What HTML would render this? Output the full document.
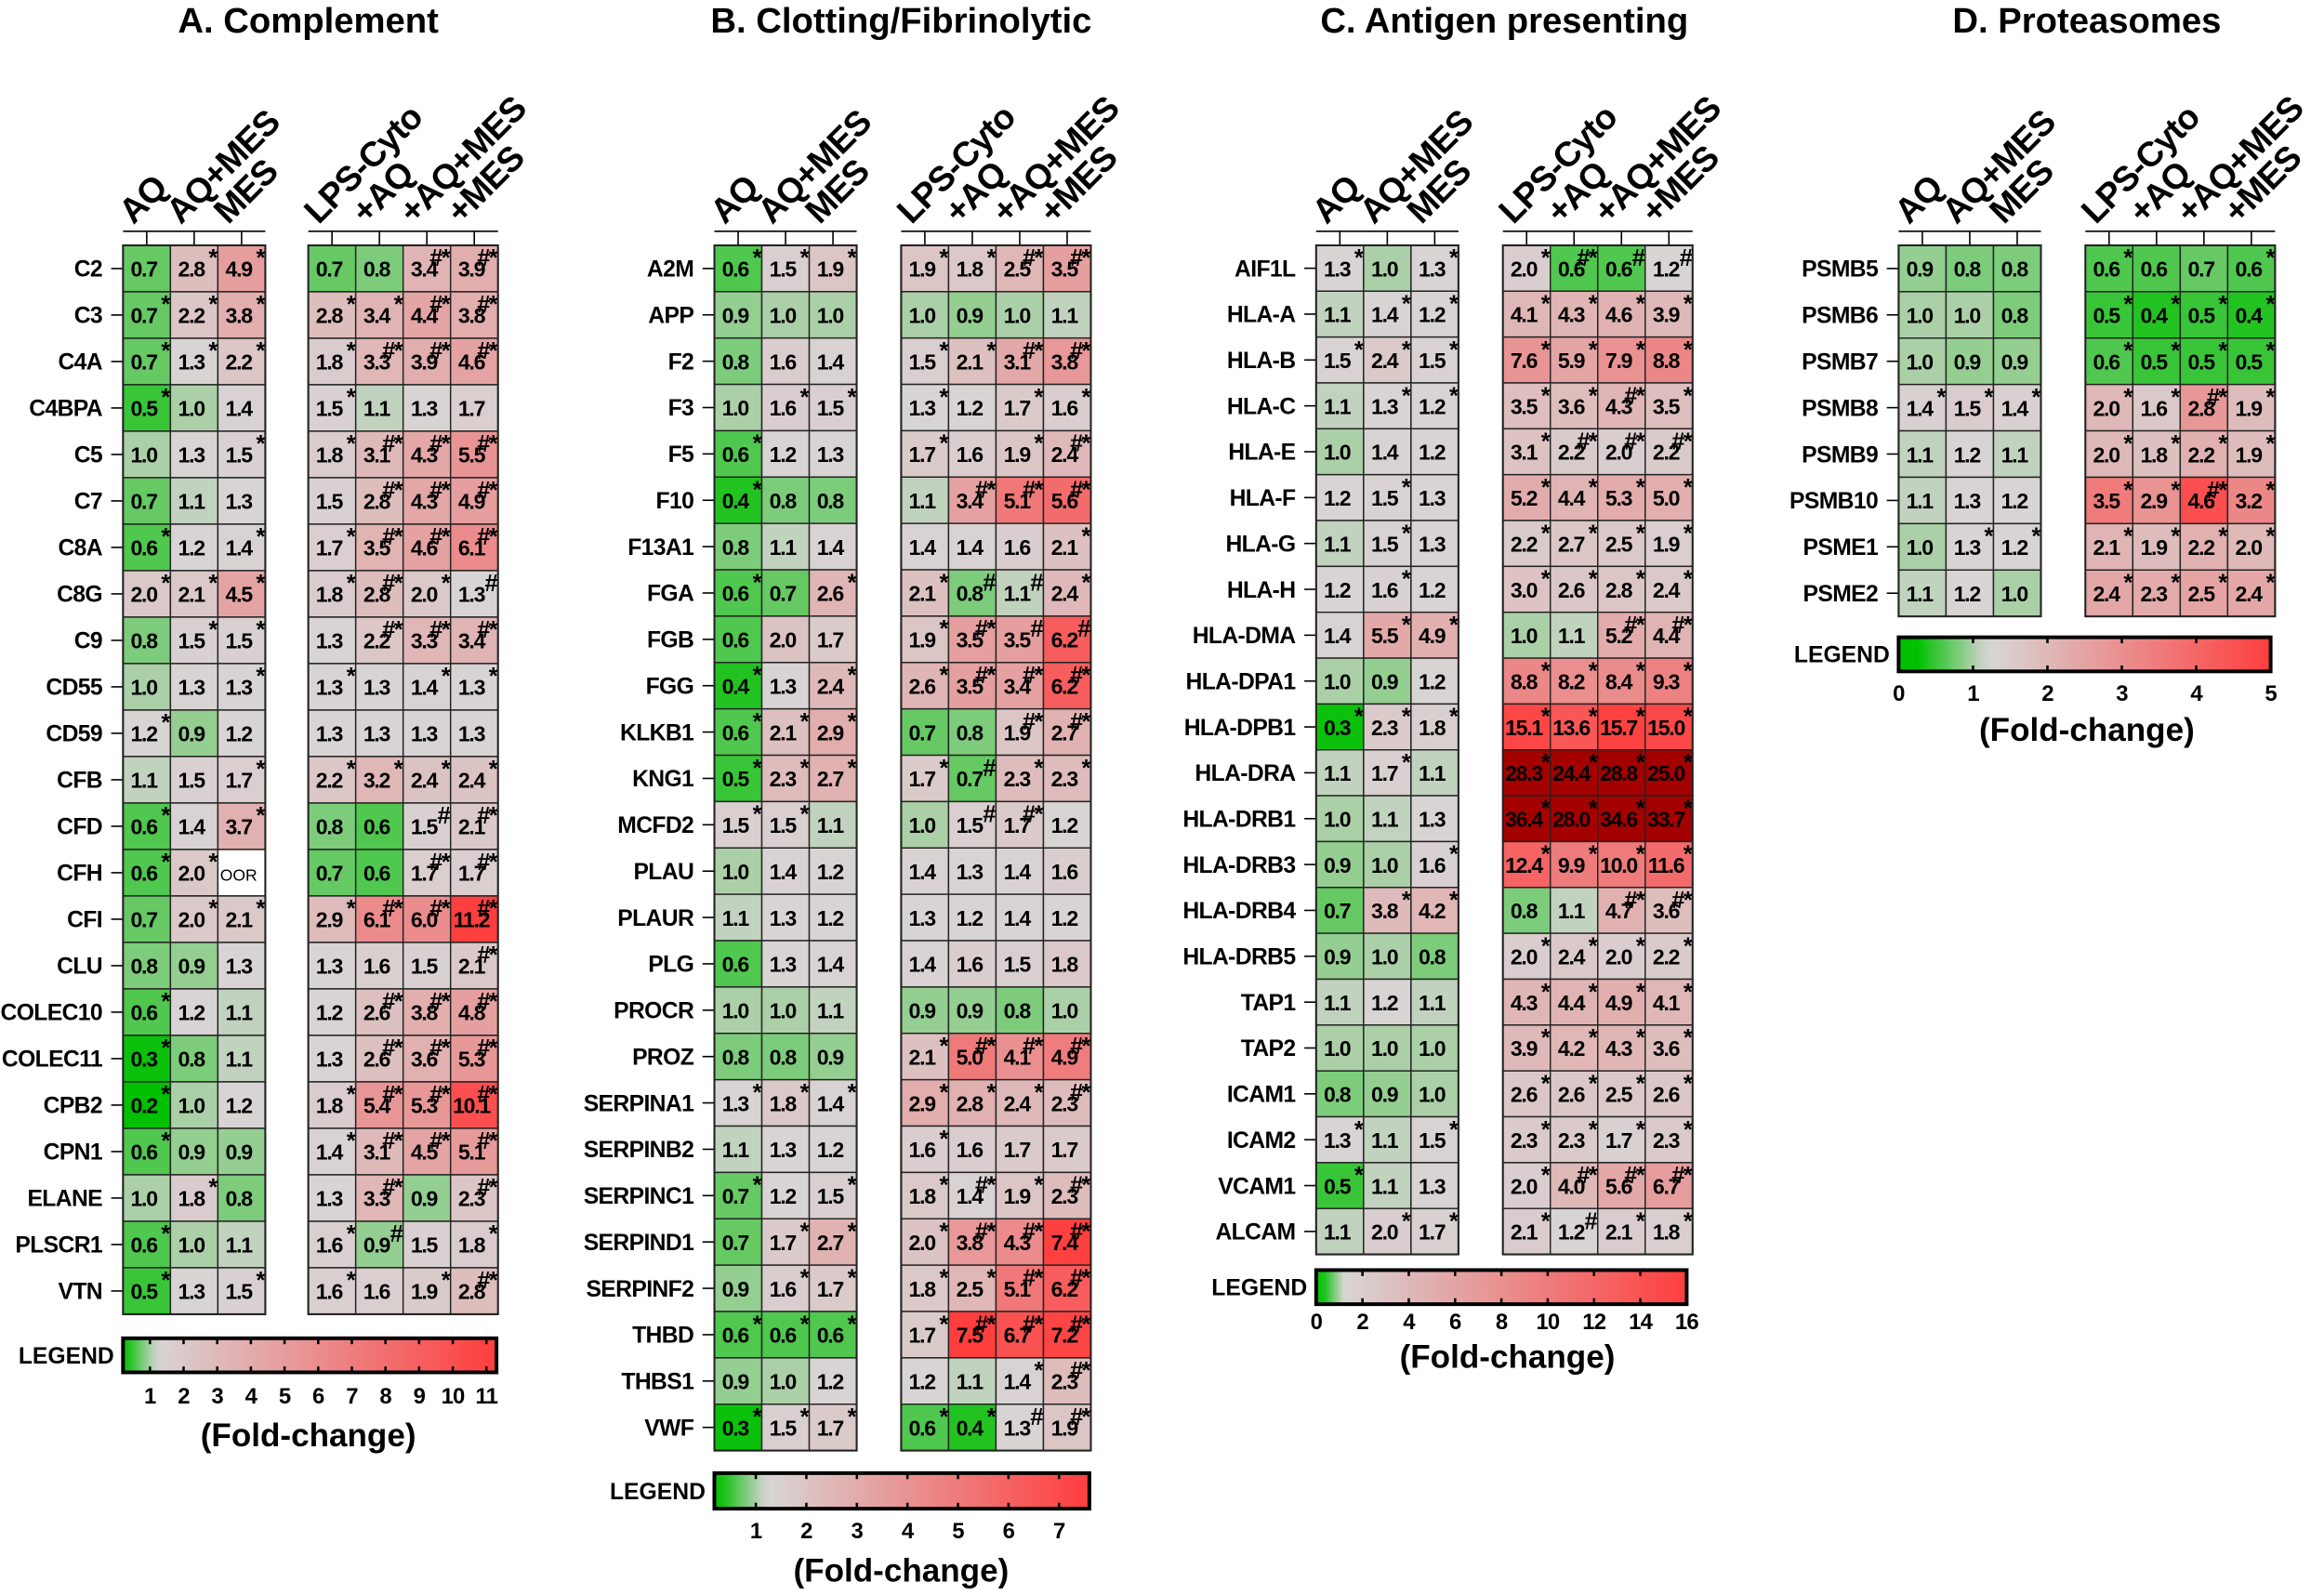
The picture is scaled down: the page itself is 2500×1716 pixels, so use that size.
<!DOCTYPE html>
<html><head><meta charset="utf-8"><style>
html,body{margin:0;padding:0;background:#fff;}
svg{display:block;font-family:"Liberation Sans",Arial,sans-serif;}
</style></head><body>
<svg id="fig" width="2500" height="1716" viewBox="0 0 1568 1076.2" xmlns="http://www.w3.org/2000/svg"></svg>
<script>
const colLabels1 = ["AQ","AQ+MES","MES"];
const colLabels2 = ["LPS-Cyto","+AQ","+AQ+MES","+MES"];

const genesA = ["C2","C3","C4A","C4BPA","C5","C7","C8A","C8G","C9","CD55","CD59","CFB","CFD","CFH","CFI","CLU","COLEC10","COLEC11","CPB2","CPN1","ELANE","PLSCR1","VTN"];
const valuesA = [
[0.7,2.8,4.9,0.7,0.8,3.4,3.9],[0.7,2.2,3.8,2.8,3.4,4.4,3.8],[0.7,1.3,2.2,1.8,3.3,3.9,4.6],[0.5,1.0,1.4,1.5,1.1,1.3,1.7],
[1.0,1.3,1.5,1.8,3.1,4.3,5.5],[0.7,1.1,1.3,1.5,2.8,4.3,4.9],[0.6,1.2,1.4,1.7,3.5,4.6,6.1],[2.0,2.1,4.5,1.8,2.8,2.0,1.3],
[0.8,1.5,1.5,1.3,2.2,3.3,3.4],[1.0,1.3,1.3,1.3,1.3,1.4,1.3],[1.2,0.9,1.2,1.3,1.3,1.3,1.3],[1.1,1.5,1.7,2.2,3.2,2.4,2.4],
[0.6,1.4,3.7,0.8,0.6,1.5,2.1],[0.6,2.0,null,0.7,0.6,1.7,1.7],[0.7,2.0,2.1,2.9,6.1,6.0,11.2],[0.8,0.9,1.3,1.3,1.6,1.5,2.1],
[0.6,1.2,1.1,1.2,2.6,3.8,4.8],[0.3,0.8,1.1,1.3,2.6,3.6,5.3],[0.2,1.0,1.2,1.8,5.4,5.3,10.1],[0.6,0.9,0.9,1.4,3.1,4.5,5.1],
[1.0,1.8,0.8,1.3,3.3,0.9,2.3],[0.6,1.0,1.1,1.6,0.9,1.5,1.8],[0.5,1.3,1.5,1.6,1.6,1.9,2.8]];
const marksA = [
"- * * - - #* #*","* * * * * #* #*","* * * * #* #* #*","* - - * - - -","- - * * #* #* #*","- - - - #* #* #*","* - * * #* #* #*","* * * * #* * #",
"- * * - #* #* #*","- - * * - * *","* - - - - - -","- - * * * * *","* - * - - # #*","* * - - - #* #*","- * * * #* #* #*","- - - - - - #*",
"* - - - #* #* #*","* - - - #* #* #*","* - - * #* #* #*","* - - * #* #* #*","- * - - #* - #*","* - - * # - *","* - * * - * #*"];

const genesB = ["A2M","APP","F2","F3","F5","F10","F13A1","FGA","FGB","FGG","KLKB1","KNG1","MCFD2","PLAU","PLAUR","PLG","PROCR","PROZ","SERPINA1","SERPINB2","SERPINC1","SERPIND1","SERPINF2","THBD","THBS1","VWF"];
const valuesB = [
[0.6,1.5,1.9,1.9,1.8,2.5,3.5],[0.9,1.0,1.0,1.0,0.9,1.0,1.1],[0.8,1.6,1.4,1.5,2.1,3.1,3.8],[1.0,1.6,1.5,1.3,1.2,1.7,1.6],
[0.6,1.2,1.3,1.7,1.6,1.9,2.4],[0.4,0.8,0.8,1.1,3.4,5.1,5.6],[0.8,1.1,1.4,1.4,1.4,1.6,2.1],[0.6,0.7,2.6,2.1,0.8,1.1,2.4],
[0.6,2.0,1.7,1.9,3.5,3.5,6.2],[0.4,1.3,2.4,2.6,3.5,3.4,6.2],[0.6,2.1,2.9,0.7,0.8,1.9,2.7],[0.5,2.3,2.7,1.7,0.7,2.3,2.3],
[1.5,1.5,1.1,1.0,1.5,1.7,1.2],[1.0,1.4,1.2,1.4,1.3,1.4,1.6],[1.1,1.3,1.2,1.3,1.2,1.4,1.2],[0.6,1.3,1.4,1.4,1.6,1.5,1.8],
[1.0,1.0,1.1,0.9,0.9,0.8,1.0],[0.8,0.8,0.9,2.1,5.0,4.1,4.9],[1.3,1.8,1.4,2.9,2.8,2.4,2.3],[1.1,1.3,1.2,1.6,1.6,1.7,1.7],
[0.7,1.2,1.5,1.8,1.4,1.9,2.3],[0.7,1.7,2.7,2.0,3.8,4.3,7.4],[0.9,1.6,1.7,1.8,2.5,5.1,6.2],[0.6,0.6,0.6,1.7,7.5,6.7,7.2],
[0.9,1.0,1.2,1.2,1.1,1.4,2.3],[0.3,1.5,1.7,0.6,0.4,1.3,1.9]];
const marksB = [
"* * * * * #* #*","- - - - - - -","- - - * * #* #*","- * * * - * *","* - - * - * #*","* - - - #* #* #*","- - - - - - *","* - * * # # *",
"- - - * #* # #","* - * * #* #* #*","* * * - - #* #*","* * * * # * *","* * - - # #* -","- - - - - - -","- - - - - - -","- - - - - - -",
"- - - - - - -","- - - * #* #* #*","* * * * * * #*","- - - * - - -","* - * * #* * #*","- * * * #* #* #*","- * * * * #* #*","* * * * #* #* #*",
"- - - - - * #*","* * * * * # #*"];

const genesC = ["AIF1L","HLA-A","HLA-B","HLA-C","HLA-E","HLA-F","HLA-G","HLA-H","HLA-DMA","HLA-DPA1","HLA-DPB1","HLA-DRA","HLA-DRB1","HLA-DRB3","HLA-DRB4","HLA-DRB5","TAP1","TAP2","ICAM1","ICAM2","VCAM1","ALCAM"];
const valuesC = [
[1.3,1.0,1.3,2.0,0.6,0.6,1.2],[1.1,1.4,1.2,4.1,4.3,4.6,3.9],[1.5,2.4,1.5,7.6,5.9,7.9,8.8],[1.1,1.3,1.2,3.5,3.6,4.3,3.5],
[1.0,1.4,1.2,3.1,2.2,2.0,2.2],[1.2,1.5,1.3,5.2,4.4,5.3,5.0],[1.1,1.5,1.3,2.2,2.7,2.5,1.9],[1.2,1.6,1.2,3.0,2.6,2.8,2.4],
[1.4,5.5,4.9,1.0,1.1,5.2,4.4],[1.0,0.9,1.2,8.8,8.2,8.4,9.3],[0.3,2.3,1.8,15.1,13.6,15.7,15.0],[1.1,1.7,1.1,28.3,24.4,28.8,25.0],
[1.0,1.1,1.3,36.4,28.0,34.6,33.7],[0.9,1.0,1.6,12.4,9.9,10.0,11.6],[0.7,3.8,4.2,0.8,1.1,4.7,3.6],[0.9,1.0,0.8,2.0,2.4,2.0,2.2],
[1.1,1.2,1.1,4.3,4.4,4.9,4.1],[1.0,1.0,1.0,3.9,4.2,4.3,3.6],[0.8,0.9,1.0,2.6,2.6,2.5,2.6],[1.3,1.1,1.5,2.3,2.3,1.7,2.3],
[0.5,1.1,1.3,2.0,4.0,5.6,6.7],[1.1,2.0,1.7,2.1,1.2,2.1,1.8]];
const marksC = [
"* - * * #* # #","- * * * * * *","* * * * * * *","- * * * * #* *","- - - * #* #* #*","- * - * * * *","- * - * * * *","- * - * * * *",
"- * * - - #* #*","- - - * * * *","* * * * * * *","- * - * * * *","- - - * * * *","- - * * * * *","- * * - - #* #*","- - - * * * *",
"- - - * * * *","- - - * * * *","- - - * * * *","* - * * * * *","* - - * #* #* #*","- * * * # * *"];

const genesD = ["PSMB5","PSMB6","PSMB7","PSMB8","PSMB9","PSMB10","PSME1","PSME2"];
const valuesD = [
[0.9,0.8,0.8,0.6,0.6,0.7,0.6],[1.0,1.0,0.8,0.5,0.4,0.5,0.4],[1.0,0.9,0.9,0.6,0.5,0.5,0.5],[1.4,1.5,1.4,2.0,1.6,2.8,1.9],
[1.1,1.2,1.1,2.0,1.8,2.2,1.9],[1.1,1.3,1.2,3.5,2.9,4.6,3.2],[1.0,1.3,1.2,2.1,1.9,2.2,2.0],[1.1,1.2,1.0,2.4,2.3,2.5,2.4]];
const marksD = [
"- - - * - - *","- - - * * * *","- - - * * * *","* * * * * #* *","- - - * * * *","- - - * * #* *","- * * * * * *","- - - * * * *"];

const ticksA = [1,2,3,4,5,6,7,8,9,10,11];
const ticksB = [1,2,3,4,5,6,7];
const ticksC = [0,2,4,6,8,10,12,14,16];
const ticksD = [0,1,2,3,4,5];

const NS = "http://www.w3.org/2000/svg";
const svg = document.getElementById('fig');
function mk(tag, attrs, parent){
  const e = document.createElementNS(NS, tag);
  for (const k in attrs) e.setAttribute(k, attrs[k]);
  (parent||svg).appendChild(e);
  return e;
}
function lerp(a,b,t){return Math.round(a+(b-a)*t);}
function color(v, max){
  if (v === null) return '#ffffff';
  const G=[0,192,0], M=[216,212,212], R=[255,62,62];
  if (v > max+0.5) return '#a50000';
  if (v <= 1.3){
    let t = Math.max(0, Math.min(1, (v-0.25)/0.95));
    return `rgb(${lerp(G[0],M[0],t)},${lerp(G[1],M[1],t)},${lerp(G[2],M[2],t)})`;
  }
  let t = Math.max(0, Math.min(1, (v-1.3)/(max-1.3)));
  return `rgb(${lerp(M[0],R[0],t)},${lerp(M[1],R[1],t)},${lerp(M[2],R[2],t)})`;
}

const panels = [
 {key:'a', title:'A. Complement', tx:208, genes:genesA, vals:valuesA, marks:marksA, x1:83, x2:208, top:165.5, rh:31.36, max:11.2,
  lg:{x0:83,x1:335,y:903,h:23, v0:0.2, v1:11.3, ticks:ticksA, ly:947, fy:976, fx:208}},
 {key:'b', title:'B. Clotting/Fibrinolytic', tx:608, genes:genesB, vals:valuesB, marks:marksB, x1:482, x2:608, top:165.5, rh:31.28, max:7.5,
  lg:{x0:482,x1:735,y:994,h:24, v0:0.18, v1:7.6, ticks:ticksB, ly:1038, fy:1067, fx:608}},
 {key:'c', title:'C. Antigen presenting', tx:1015, genes:genesC, vals:valuesC, marks:marksC, x1:888, x2:1014, top:165.5, rh:30.95, max:16,
  lg:{x0:888,x1:1138,y:857,h:23, v0:0, v1:16, ticks:ticksC, ly:897, fy:923, fx:1017}},
 {key:'d', title:'D. Proteasomes', tx:1408, genes:genesD, vals:valuesD, marks:marksD, x1:1281, x2:1407, top:165.5, rh:31.3, max:5,
  lg:{x0:1281,x1:1532,y:430,h:23, v0:0, v1:5, ticks:ticksD, ly:473, fy:500, fx:1408}}
];
const CW = 32;

panels.forEach(p => {
  const g = mk('g', {});
  
  
  const t = mk('text', {x:p.tx, y:22, 'text-anchor':'middle', 'font-size':24, 'font-weight':'bold', fill:'#000'}, g);
  t.textContent = p.title;
  
  

  const colX = [0,1,2].map(i => p.x1 + i*CW).concat([0,1,2,3].map(i => p.x2 + i*CW));
  const labels = colLabels1.concat(colLabels2);
  const n = p.genes.length;
  const bottom = p.top + n*p.rh;

  colX.forEach((cx, j) => {
    const c = cx + CW/2;
    mk('line', {x1:c, y1:156, x2:c, y2:p.top, stroke:'#000', 'stroke-width':1}, g);
    const ht = mk('text', {x:c-9, y:152, 'font-size':23.5, 'font-weight':'bold', 'letter-spacing':-0.6, transform:`rotate(-45 ${c-9} 152)`}, g);
    ht.textContent = labels[j];
    
    
  });
  mk('line', {x1:p.x1, y1:156, x2:p.x1+3*CW, y2:156, stroke:'#000', 'stroke-width':1}, g);
  mk('line', {x1:p.x2, y1:156, x2:p.x2+4*CW, y2:156, stroke:'#000', 'stroke-width':1}, g);

  p.genes.forEach((gene, i) => {
    const y = p.top + i*p.rh;
    const cy = y + p.rh/2;
    const lt = mk('text', {x:p.x1-14, y:cy+5.5, 'text-anchor':'end', 'font-size':15.5, 'font-weight':'bold', 'letter-spacing':-0.4}, g);
    lt.textContent = gene;
    
    
    mk('line', {x1:p.x1-8, y1:cy, x2:p.x1, y2:cy, stroke:'#000', 'stroke-width':1}, g);
    const mrow = p.marks[i].split(' ');
    p.vals[i].forEach((v, j) => {
      const x = colX[j];
      const r = mk('rect', {x:x, y:y, width:CW, height:p.rh, fill:color(v, p.max), stroke:'#222', 'stroke-width':0.9}, g);
      
      
      const vt = mk('text', {x:x+CW/2-2, y:cy+5.5, 'text-anchor':'middle', 'font-size': v===null?11:14.5, 'font-weight': v===null?'normal':'bold', 'letter-spacing': v===null?0:-0.8, fill:'#000'}, g);
      vt.textContent = v===null ? 'OOR' : v.toFixed(1);
      
      
      const m = mrow[j];
      if (m && m !== '-') {
        const st = mk('text', {x:x+CW-1, y:y+14, 'text-anchor':'end', 'font-size':16, 'font-weight':'bold', 'letter-spacing':-1}, g);
        st.textContent = m;
        
        
      }
    });
  });
  mk('rect', {x:p.x1, y:p.top, width:3*CW, height:bottom-p.top, fill:'none', stroke:'#222', 'stroke-width':1.3}, g);
  mk('rect', {x:p.x2, y:p.top, width:4*CW, height:bottom-p.top, fill:'none', stroke:'#222', 'stroke-width':1.3}, g);

  const L = p.lg;
  const gid = 'grad-' + p.key;
  const defs = mk('defs', {}, g);
  const lgEl = mk('linearGradient', {id:gid, x1:'0', y1:'0', x2:'1', y2:'0'}, defs);
  for (let k=0; k<=40; k++){
    const v = L.v0 + (L.v1-L.v0)*k/40;
    mk('stop', {offset:(k/40), 'stop-color':color(v, p.max)}, lgEl);
  }
  const sx = v => L.x0 + (v - L.v0)/(L.v1 - L.v0)*(L.x1 - L.x0);
  const lw = mk('text', {x:L.x0-6, y:L.y+L.h/2+5.5, 'text-anchor':'end', 'font-size':15.5, 'font-weight':'bold'}, g);
  lw.textContent = 'LEGEND';
  
  
  const lr = mk('rect', {x:L.x0, y:L.y, width:L.x1-L.x0, height:L.h, fill:`url(#${gid})`, stroke:'#000', 'stroke-width':2.5}, g);
  
  
  L.ticks.forEach(tv => {
    const x = sx(tv);
    mk('line', {x1:x, y1:L.y, x2:x, y2:L.y+4, stroke:'#000', 'stroke-width':1.6}, g);
    mk('line', {x1:x, y1:L.y+L.h-4, x2:x, y2:L.y+L.h, stroke:'#000', 'stroke-width':1.6}, g);
    const tt = mk('text', {x:x, y:L.ly, 'text-anchor':'middle', 'font-size':15, 'font-weight':'bold', 'letter-spacing':-0.5}, g);
    tt.textContent = tv;
    
    
  });
  const ft = mk('text', {x:L.fx, y:L.fy, 'text-anchor':'middle', 'font-size':22, 'font-weight':'bold'}, g);
  ft.textContent = '(Fold-change)';
  
  
});
</script>
</body></html>
